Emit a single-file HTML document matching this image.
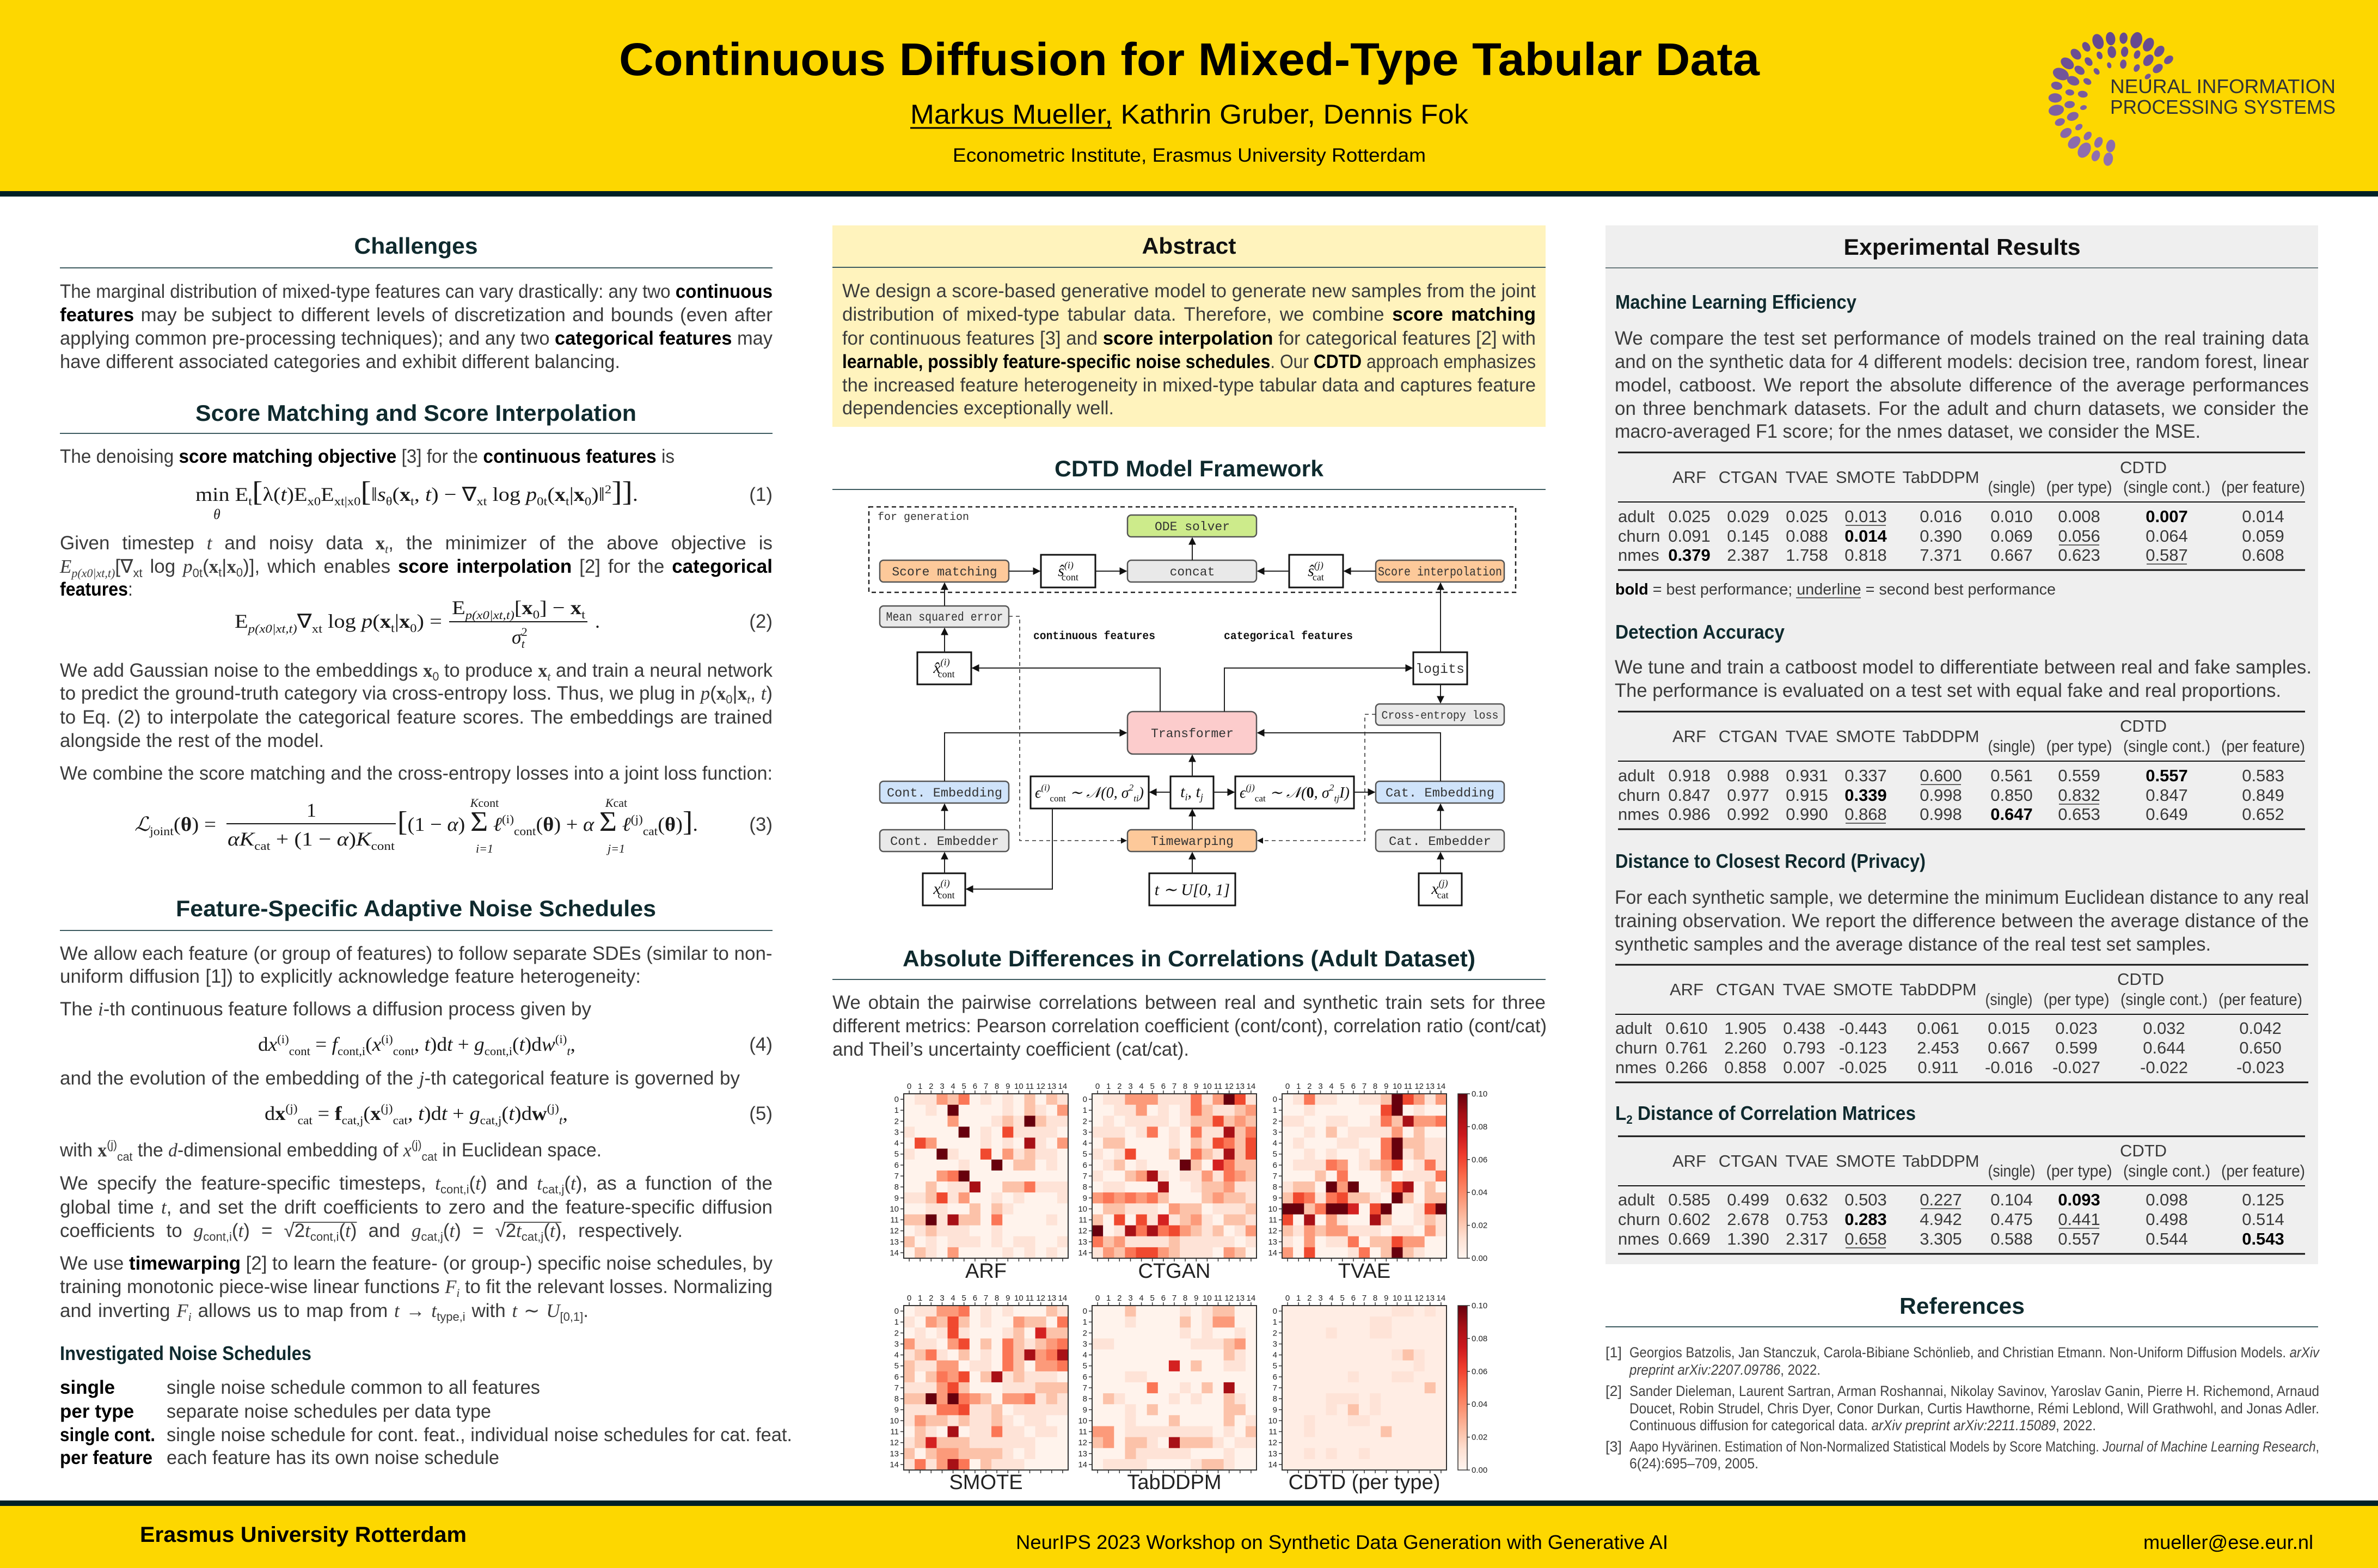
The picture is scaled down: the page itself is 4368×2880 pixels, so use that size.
<!DOCTYPE html>
<html><head><meta charset="utf-8"><style>
html,body{margin:0;padding:0;background:#fff;overflow:hidden}
svg{display:block}
.b{font-family:"Liberation Sans",sans-serif;font-size:35px;fill:#3b3b3b}
.lb{font-family:"Liberation Sans",sans-serif;font-size:38px;fill:#222}
.k{font-weight:bold;fill:#000}
.h{font-family:"Liberation Sans",sans-serif;font-weight:bold;font-size:42px;fill:#0f2a2e}
.s{font-family:"Liberation Sans",sans-serif;font-weight:bold;font-size:36px;fill:#0f2a2e}
.m{font-family:"Liberation Serif",serif;font-size:36px;fill:#1a1a1a}
.mi{font-family:"Liberation Serif",serif;font-style:italic}
.bx{font-family:"Liberation Serif",serif;font-weight:bold}
.sb{font-size:22px}
.big{font-size:52px}
.t{font-family:"Liberation Sans",sans-serif;font-size:31px;fill:#3a3a3a}
.tb{font-weight:bold;fill:#000}
.r{font-family:"Liberation Sans",sans-serif;font-size:27px;fill:#444}
.it{font-style:italic}
.mo{font-family:"Liberation Mono",monospace;font-size:23px;fill:#333}
.mb{font-family:"Liberation Mono",monospace;font-size:21px;font-weight:bold;fill:#111}
.dm{font-family:"Liberation Serif",serif;font-style:italic;font-size:30px;fill:#111}
.tk{font-family:"Liberation Sans",sans-serif;font-size:15px;fill:#222}
.rule{stroke:#3c5a5f;stroke-width:2}
.ln{stroke:#222;stroke-width:2;fill:none}
.ds{stroke:#333;stroke-width:1.6;fill:none;stroke-dasharray:7 6}
.bxo{stroke:#555;stroke-width:2.5}
.mbx{fill:#fff;stroke:#111;stroke-width:3}
</style></head><body>
<svg id="p" xmlns="http://www.w3.org/2000/svg" width="4368" height="2880" viewBox="0 0 4368 2880">
<defs>
<marker id="ar" viewBox="0 0 10 10" refX="9" refY="5" markerWidth="7" markerHeight="7" orient="auto-start-reverse"><path d="M0,0 L10,5 L0,10 z" fill="#111"/></marker>
<linearGradient id="cb" x1="0" y1="1" x2="0" y2="0">
<stop offset="0" stop-color="#fff5f0"/><stop offset=".125" stop-color="#fee0d2"/><stop offset=".25" stop-color="#fcbba1"/><stop offset=".375" stop-color="#fc9272"/><stop offset=".5" stop-color="#fb6a4a"/><stop offset=".625" stop-color="#ef3b2c"/><stop offset=".75" stop-color="#cb181d"/><stop offset=".875" stop-color="#a50f15"/><stop offset="1" stop-color="#67000d"/>
</linearGradient>
</defs>

<!-- HEADER -->
<rect x="0" y="0" width="4368" height="351" fill="#fdd700"/>
<rect x="0" y="351" width="4368" height="10" fill="#002126"/>
<text x="1137" y="138" textLength="2095" style="font-family:'Liberation Sans',sans-serif;font-weight:bold;font-size:84px;fill:#000">Continuous Diffusion for Mixed-Type Tabular Data</text>
<text x="1672" y="227" textLength="1025" style="font-family:'Liberation Sans',sans-serif;font-size:50px;fill:#000">Markus Mueller, Kathrin Gruber, Dennis Fok</text>
<line x1="1672" y1="235" x2="2042" y2="235" stroke="#000" stroke-width="3"/>
<text x="1750" y="297" textLength="869" style="font-family:'Liberation Sans',sans-serif;font-size:35px;fill:#000">Econometric Institute, Erasmus University Rotterdam</text>
<g id="logo"></g>
<text x="3876" y="171" textLength="414" style="font-family:'Liberation Sans',sans-serif;font-size:36px;fill:#2f3238">NEURAL INFORMATION</text>
<text x="3876" y="209" textLength="414" style="font-family:'Liberation Sans',sans-serif;font-size:36px;fill:#2f3238">PROCESSING SYSTEMS</text>

<!-- FOOTER -->
<rect x="0" y="2756" width="4368" height="10" fill="#002126"/>
<rect x="0" y="2766" width="4368" height="114" fill="#fdd700"/>
<text x="257" y="2832" textLength="600" style="font-family:'Liberation Sans',sans-serif;font-weight:bold;font-size:40px;fill:#000">Erasmus University Rotterdam</text>
<text x="1866" y="2845" textLength="1198" style="font-family:'Liberation Sans',sans-serif;font-size:36px;fill:#000">NeurIPS 2023 Workshop on Synthetic Data Generation with Generative AI</text>
<text x="3937" y="2845" textLength="312" style="font-family:'Liberation Sans',sans-serif;font-size:36px;fill:#000">mueller@ese.eur.nl</text>

<!-- LEFT COLUMN -->
<text class="h" x="764" y="466" text-anchor="middle" textLength="227">Challenges</text>
<line class="rule" x1="110" y1="492" x2="1419" y2="492"/>
<text class="b" x="110" y="547" textLength="1309">The marginal distribution of mixed-type features can vary drastically: any two <tspan class="k">continuous</tspan></text>
<text class="b" x="110" y="590" textLength="1309"><tspan class="k">features</tspan> may be subject to different levels of discretization and bounds (even after</text>
<text class="b" x="110" y="633" textLength="1309">applying common pre-processing techniques); and any two <tspan class="k">categorical features</tspan> may</text>
<text class="b" x="110" y="676" textLength="1029">have different associated categories and exhibit different balancing.</text>

<text class="h" x="764" y="773" text-anchor="middle" textLength="810">Score Matching and Score Interpolation</text>
<line class="rule" x1="110" y1="796" x2="1419" y2="796"/>
<text class="b" x="110" y="850" textLength="1129">The denoising <tspan class="k">score matching objective</tspan> [3] for the <tspan class="k">continuous features</tspan> is</text>

<text class="m" x="359" y="920" textLength="813">min E<tspan class="sb" dy="8">t</tspan><tspan dy="-8" class="big">[</tspan>λ(<tspan class="mi">t</tspan>)E<tspan class="sb" dy="8">x0</tspan><tspan dy="-8">E</tspan><tspan class="sb" dy="8">xt|x0</tspan><tspan dy="-8" class="big">[</tspan>‖<tspan class="mi">s</tspan><tspan class="sb" dy="8">θ</tspan><tspan dy="-8">(</tspan><tspan class="bx">x</tspan><tspan class="sb" dy="8">t</tspan><tspan dy="-8">, </tspan><tspan class="mi">t</tspan>) − ∇<tspan class="sb" dy="8">xt</tspan><tspan dy="-8"> log </tspan><tspan class="mi">p</tspan><tspan class="sb" dy="8">0t</tspan><tspan dy="-8">(</tspan><tspan class="bx">x</tspan><tspan class="sb" dy="8">t</tspan><tspan dy="-8">|</tspan><tspan class="bx">x</tspan><tspan class="sb" dy="8">0</tspan><tspan dy="-8">)‖</tspan><tspan class="sb" dy="-14">2</tspan><tspan dy="14" class="big">]]</tspan>.</text>
<text class="m mi" x="392" y="953" style="font-size:26px">θ</text>
<text class="b" x="1419" y="920" text-anchor="end">(1)</text>

<text class="b" x="110" y="1009" textLength="1309">Given timestep <tspan class="mi">t</tspan> and noisy data <tspan class="bx">x</tspan><tspan class="sb mi" dy="7">t</tspan><tspan dy="-7">, the minimizer of the above objective is</tspan></text>
<text class="b" x="110" y="1052" textLength="1309"><tspan class="mi">E</tspan><tspan class="sb mi" dy="8">p(x0|xt,t)</tspan><tspan dy="-8">[∇</tspan><tspan class="sb" dy="8">xt</tspan><tspan dy="-8"> log </tspan><tspan class="mi">p</tspan><tspan class="sb" dy="8">0t</tspan><tspan dy="-8">(</tspan><tspan class="bx">x</tspan><tspan class="sb" dy="7">t</tspan><tspan dy="-7">|</tspan><tspan class="bx">x</tspan><tspan class="sb" dy="7">0</tspan><tspan dy="-7">)], which enables </tspan><tspan class="k">score interpolation</tspan> [2] for the <tspan class="k">categorical</tspan></text>
<text class="b" x="110" y="1094" textLength="134"><tspan class="k">features</tspan>:</text>

<text class="m" x="431" y="1153" textLength="381">E<tspan class="sb mi" dy="9">p(x0|xt,t)</tspan><tspan dy="-9">∇</tspan><tspan class="sb" dy="9">xt</tspan><tspan dy="-9"> log </tspan><tspan class="mi">p</tspan>(<tspan class="bx">x</tspan><tspan class="sb" dy="8">t</tspan><tspan dy="-8">|</tspan><tspan class="bx">x</tspan><tspan class="sb" dy="8">0</tspan><tspan dy="-8">) =</tspan></text>
<text class="m" x="830" y="1128" textLength="245">E<tspan class="sb mi" dy="9">p(x0|xt,t)</tspan><tspan dy="-9">[</tspan><tspan class="bx">x</tspan><tspan class="sb" dy="8">0</tspan><tspan dy="-8">] − </tspan><tspan class="bx">x</tspan><tspan class="sb" dy="8">t</tspan></text>
<line x1="825" y1="1142" x2="1079" y2="1142" stroke="#111" stroke-width="2"/>
<text class="m" x="940" y="1182"><tspan class="mi">σ</tspan><tspan class="sb" dy="-14">2</tspan><tspan class="sb mi" dx="-11" dy="22">t</tspan></text>
<text class="m" x="1093" y="1153">.</text>
<text class="b" x="1419" y="1153" text-anchor="end">(2)</text>

<text class="b" x="110" y="1243" textLength="1309">We add Gaussian noise to the embeddings <tspan class="bx">x</tspan><tspan class="sb" dy="7">0</tspan><tspan dy="-7"> to produce </tspan><tspan class="bx">x</tspan><tspan class="sb mi" dy="7">t</tspan><tspan dy="-7"> and train a neural network</tspan></text>
<text class="b" x="110" y="1285" textLength="1309">to predict the ground-truth category via cross-entropy loss. Thus, we plug in <tspan class="mi">p</tspan>(<tspan class="bx">x</tspan><tspan class="sb" dy="7">0</tspan><tspan dy="-7">|</tspan><tspan class="bx">x</tspan><tspan class="sb mi" dy="7">t</tspan><tspan dy="-7">, </tspan><tspan class="mi">t</tspan>)</text>
<text class="b" x="110" y="1329" textLength="1309">to Eq. (2) to interpolate the categorical feature scores. The embeddings are trained</text>
<text class="b" x="110" y="1372" textLength="485">alongside the rest of the model.</text>
<text class="b" x="110" y="1432" textLength="1309">We combine the score matching and the cross-entropy losses into a joint loss function:</text>

<text class="m" x="247" y="1526" textLength="150"><tspan class="mi">ℒ</tspan><tspan class="sb" dy="8">joint</tspan><tspan dy="-8">(</tspan><tspan class="bx">θ</tspan>) =</text>
<text class="m" x="572" y="1500" text-anchor="middle">1</text>
<line x1="416" y1="1513" x2="727" y2="1513" stroke="#111" stroke-width="2"/>
<text class="m" x="418" y="1553" textLength="307"><tspan class="mi">αK</tspan><tspan class="sb" dy="8">cat</tspan><tspan dy="-8"> + (1 − </tspan><tspan class="mi">α</tspan>)<tspan class="mi">K</tspan><tspan class="sb" dy="8">cont</tspan></text>
<text class="m" x="730" y="1526" textLength="552"><tspan class="big">[</tspan>(1 − <tspan class="mi">α</tspan>) <tspan class="big">Σ</tspan> <tspan class="mi">ℓ</tspan><tspan class="sb" dy="-14">(i)</tspan><tspan class="sb" dy="22">cont</tspan><tspan dy="-8">(</tspan><tspan class="bx">θ</tspan>) + <tspan class="mi">α</tspan> <tspan class="big">Σ</tspan> <tspan class="mi">ℓ</tspan><tspan class="sb" dy="-14">(j)</tspan><tspan class="sb" dy="22">cat</tspan><tspan dy="-8">(</tspan><tspan class="bx">θ</tspan>)<tspan class="big">]</tspan>.</text>
<text class="m mi" x="890" y="1482" text-anchor="middle" style="font-size:22px">K<tspan style="font-style:normal">cont</tspan></text>
<text class="m mi" x="890" y="1566" text-anchor="middle" style="font-size:22px">i=1</text>
<text class="m mi" x="1132" y="1482" text-anchor="middle" style="font-size:22px">K<tspan style="font-style:normal">cat</tspan></text>
<text class="m mi" x="1132" y="1566" text-anchor="middle" style="font-size:22px">j=1</text>
<text class="b" x="1419" y="1526" text-anchor="end">(3)</text>

<text class="h" x="764" y="1683" text-anchor="middle" textLength="882">Feature-Specific Adaptive Noise Schedules</text>
<line class="rule" x1="110" y1="1709" x2="1419" y2="1709"/>
<text class="b" x="110" y="1763" textLength="1309">We allow each feature (or group of features) to follow separate SDEs (similar to non-</text>
<text class="b" x="110" y="1805" textLength="1067">uniform diffusion [1]) to explicitly acknowledge feature heterogeneity:</text>
<text class="b" x="110" y="1865" textLength="976">The <tspan class="mi">i</tspan>-th continuous feature follows a diffusion process given by</text>
<text class="m" x="474" y="1930" textLength="583">d<tspan class="mi">x</tspan><tspan class="sb" dy="-14">(i)</tspan><tspan class="sb" dy="22">cont</tspan><tspan dy="-8"> = </tspan><tspan class="mi">f</tspan><tspan class="sb" dy="8">cont,i</tspan><tspan dy="-8">(</tspan><tspan class="mi">x</tspan><tspan class="sb" dy="-14">(i)</tspan><tspan class="sb" dy="22">cont</tspan><tspan dy="-8">, </tspan><tspan class="mi">t</tspan>)d<tspan class="mi">t</tspan> + <tspan class="mi">g</tspan><tspan class="sb" dy="8">cont,i</tspan><tspan dy="-8">(</tspan><tspan class="mi">t</tspan>)d<tspan class="mi">w</tspan><tspan class="sb" dy="-14">(i)</tspan><tspan class="sb mi" dy="22">t</tspan><tspan dy="-8">,</tspan></text>
<text class="b" x="1419" y="1930" text-anchor="end">(4)</text>
<text class="b" x="110" y="1992" textLength="1249">and the evolution of the embedding of the <tspan class="mi">j</tspan>-th categorical feature is governed by</text>
<text class="m" x="486" y="2057" textLength="557">d<tspan class="bx">x</tspan><tspan class="sb" dy="-14">(j)</tspan><tspan class="sb" dy="22">cat</tspan><tspan dy="-8"> = </tspan><tspan class="bx">f</tspan><tspan class="sb" dy="8">cat,j</tspan><tspan dy="-8">(</tspan><tspan class="bx">x</tspan><tspan class="sb" dy="-14">(j)</tspan><tspan class="sb" dy="22">cat</tspan><tspan dy="-8">, </tspan><tspan class="mi">t</tspan>)d<tspan class="mi">t</tspan> + <tspan class="mi">g</tspan><tspan class="sb" dy="8">cat,j</tspan><tspan dy="-8">(</tspan><tspan class="mi">t</tspan>)d<tspan class="bx">w</tspan><tspan class="sb" dy="-14">(j)</tspan><tspan class="sb mi" dy="22">t</tspan><tspan dy="-8">,</tspan></text>
<text class="b" x="1419" y="2057" text-anchor="end">(5)</text>
<text class="b" x="110" y="2124" textLength="995">with <tspan class="bx">x</tspan><tspan class="sb" dy="-14">(j)</tspan><tspan class="sb" dy="22">cat</tspan><tspan dy="-8"> the </tspan><tspan class="mi">d</tspan>-dimensional embedding of <tspan class="mi">x</tspan><tspan class="sb" dy="-14">(j)</tspan><tspan class="sb" dy="22">cat</tspan><tspan dy="-8"> in Euclidean space.</tspan></text>
<text class="b" x="110" y="2185" textLength="1309">We specify the feature-specific timesteps, <tspan class="mi">t</tspan><tspan class="sb" dy="7">cont,i</tspan><tspan dy="-7">(</tspan><tspan class="mi">t</tspan>) and <tspan class="mi">t</tspan><tspan class="sb" dy="7">cat,j</tspan><tspan dy="-7">(</tspan><tspan class="mi">t</tspan>), as a function of the</text>
<text class="b" x="110" y="2229" textLength="1309">global time <tspan class="mi">t</tspan>, and set the drift coefficients to zero and the feature-specific diffusion</text>
<text id="sq" class="b" x="110" y="2272" textLength="1144">coefficients to <tspan class="mi">g</tspan><tspan class="sb" dy="7">cont,i</tspan><tspan dy="-7">(</tspan><tspan class="mi">t</tspan>) = √2<tspan class="mi">t</tspan><tspan class="sb" dy="7">cont,i</tspan><tspan dy="-7">(</tspan><tspan class="mi">t</tspan>) and <tspan class="mi">g</tspan><tspan class="sb" dy="7">cat,j</tspan><tspan dy="-7">(</tspan><tspan class="mi">t</tspan>) = √2<tspan class="mi">t</tspan><tspan class="sb" dy="7">cat,j</tspan><tspan dy="-7">(</tspan><tspan class="mi">t</tspan>), respectively.</text>
<text class="b" x="110" y="2332" textLength="1309">We use <tspan class="k">timewarping</tspan> [2] to learn the feature- (or group-) specific noise schedules, by</text>
<text class="b" x="110" y="2375" textLength="1309">training monotonic piece-wise linear functions <tspan class="mi">F</tspan><tspan class="sb mi" dy="7">i</tspan><tspan dy="-7"> to fit the relevant losses. Normalizing</tspan></text>
<text class="b" x="110" y="2419" textLength="971">and inverting <tspan class="mi">F</tspan><tspan class="sb mi" dy="7">i</tspan><tspan dy="-7"> allows us to map from </tspan><tspan class="mi">t</tspan> → <tspan class="mi">t</tspan><tspan class="sb" dy="7">type,i</tspan><tspan dy="-7"> with </tspan><tspan class="mi">t</tspan> ∼ <tspan class="mi">U</tspan><tspan class="sb" dy="7">[0,1]</tspan><tspan dy="-7">.</tspan></text>

<text class="s" x="110" y="2498" textLength="462">Investigated Noise Schedules</text>
<text class="b k" x="110" y="2560">single</text>
<text class="b" x="306" y="2560" textLength="686">single noise schedule common to all features</text>
<text class="b k" x="110" y="2604">per type</text>
<text class="b" x="306" y="2604" textLength="596">separate noise schedules per data type</text>
<text class="b k" x="110" y="2647" textLength="175">single cont.</text>
<text class="b" x="306" y="2647" textLength="1149">single noise schedule for cont. feat., individual noise schedules for cat. feat.</text>
<text class="b k" x="110" y="2689" textLength="170">per feature</text>
<text class="b" x="306" y="2689" textLength="611">each feature has its own noise schedule</text>

<!-- MIDDLE COLUMN -->
<rect x="1529" y="414" width="1310" height="370" fill="#fff3bd"/>
<text class="h" x="2184" y="466" text-anchor="middle" textLength="173" style="fill:#111">Abstract</text>
<line class="rule" x1="1529" y1="491" x2="2839" y2="491"/>
<text class="b" x="1547" y="546" textLength="1274">We design a score-based generative model to generate new samples from the joint</text>
<text class="b" x="1547" y="589" textLength="1274">distribution of mixed-type tabular data. Therefore, we combine <tspan class="k">score matching</tspan></text>
<text class="b" x="1547" y="633" textLength="1274">for continuous features [3] and <tspan class="k">score interpolation</tspan> for categorical features [2] with</text>
<text class="b" x="1547" y="676" textLength="1274"><tspan class="k">learnable, possibly feature-specific noise schedules</tspan>. Our <tspan class="k">CDTD</tspan> approach emphasizes</text>
<text class="b" x="1547" y="719" textLength="1274">the increased feature heterogeneity in mixed-type tabular data and captures feature</text>
<text class="b" x="1547" y="761" textLength="499">dependencies exceptionally well.</text>

<text class="h" x="2184" y="875" text-anchor="middle" textLength="494">CDTD Model Framework</text>
<line class="rule" x1="1529" y1="899" x2="2839" y2="899"/>

<!-- diagram -->
<rect x="1596" y="931" width="1188" height="157" fill="none" stroke="#222" stroke-width="2.5" stroke-dasharray="8 6"/>
<text class="mo" x="1612" y="955" style="font-size:20px">for generation</text>
<rect class="bxo" x="2071" y="946" width="237" height="40" rx="7" fill="#cdeb8b"/>
<text class="mo" x="2190" y="974" text-anchor="middle">ODE solver</text>
<rect class="bxo" x="1616" y="1029" width="237" height="40" rx="7" fill="#fdc99a"/>
<text class="mo" x="1735" y="1057" text-anchor="middle">Score matching</text>
<rect class="mbx" x="1912" y="1019" width="100" height="60"/>
<text class="dm" x="1962" y="1058" text-anchor="middle">ŝ<tspan font-size="18" dy="-14">(i)</tspan><tspan font-size="18" dx="-22" dy="22" font-style="normal">cont</tspan></text>
<rect class="bxo" x="2071" y="1029" width="237" height="40" rx="7" fill="#e9e9e9"/>
<text class="mo" x="2190" y="1057" text-anchor="middle">concat</text>
<rect class="mbx" x="2368" y="1019" width="99" height="60"/>
<text class="dm" x="2417" y="1058" text-anchor="middle">ŝ<tspan font-size="18" dy="-14">(j)</tspan><tspan font-size="18" dx="-20" dy="22" font-style="normal">cat</tspan></text>
<rect class="bxo" x="2527" y="1029" width="236" height="40" rx="7" fill="#fdc99a"/>
<text class="mo" x="2645" y="1057" text-anchor="middle" textLength="228">Score interpolation</text>
<rect class="bxo" x="1616" y="1113" width="237" height="39" rx="7" fill="#e9e9e9"/>
<text class="mo" x="1735" y="1140" text-anchor="middle" textLength="215">Mean squared error</text>
<text class="mb" x="1898" y="1174" textLength="224">continuous features</text>
<text class="mb" x="2248" y="1174" textLength="237">categorical features</text>
<rect class="mbx" x="1685" y="1198" width="99" height="59"/>
<text class="dm" x="1734" y="1236" text-anchor="middle">x̂<tspan font-size="18" dy="-14">(i)</tspan><tspan font-size="18" dx="-22" dy="22" font-style="normal">cont</tspan></text>
<rect class="mbx" x="2596" y="1198" width="99" height="59"/>
<text class="mo" x="2645" y="1236" text-anchor="middle" style="font-size:25px">logits</text>
<rect class="bxo" x="2527" y="1293" width="236" height="39" rx="7" fill="#e9e9e9"/>
<text class="mo" x="2645" y="1320" text-anchor="middle" textLength="215" style="font-size:21px">Cross-entropy loss</text>
<rect class="bxo" x="2071" y="1307" width="237" height="78" rx="10" fill="#fccccc"/>
<text class="mo" x="2190" y="1354" text-anchor="middle">Transformer</text>
<rect class="bxo" x="1616" y="1435" width="237" height="40" rx="7" fill="#cfe3fa"/>
<text class="mo" x="1735" y="1463" text-anchor="middle" textLength="212">Cont. Embedding</text>
<rect class="mbx" x="1893" y="1426" width="217" height="59"/>
<text class="dm" x="1901" y="1465" textLength="200" style="font-size:28px">ϵ<tspan font-size="17" dy="-13">(i)</tspan><tspan font-size="17" dy="20" font-style="normal">cont</tspan><tspan dy="-7"> ∼ 𝒩(0, σ</tspan><tspan font-size="17" dy="-13">2</tspan><tspan font-size="17" dy="20">ti</tspan><tspan dy="-7">)</tspan></text>
<rect class="mbx" x="2150" y="1426" width="79" height="59"/>
<text class="dm" x="2189" y="1464" text-anchor="middle">t<tspan font-size="18" dy="6">i</tspan><tspan dy="-6">, t</tspan><tspan font-size="18" dy="6">j</tspan></text>
<rect class="mbx" x="2269" y="1426" width="218" height="59"/>
<text class="dm" x="2277" y="1465" textLength="202" style="font-size:28px">ϵ<tspan font-size="17" dy="-13">(j)</tspan><tspan font-size="17" dy="20" font-style="normal">cat</tspan><tspan dy="-7"> ∼ 𝒩(</tspan><tspan font-weight="bold" font-style="normal">0</tspan>, σ<tspan font-size="17" dy="-13">2</tspan><tspan font-size="17" dy="20">tj</tspan><tspan dy="-7">I)</tspan></text>
<rect class="bxo" x="2527" y="1435" width="236" height="40" rx="7" fill="#cfe3fa"/>
<text class="mo" x="2645" y="1463" text-anchor="middle" textLength="200">Cat. Embedding</text>
<rect class="bxo" x="1616" y="1524" width="237" height="40" rx="7" fill="#e9e9e9"/>
<text class="mo" x="1735" y="1552" text-anchor="middle" textLength="200">Cont. Embedder</text>
<rect class="bxo" x="2071" y="1524" width="237" height="40" rx="7" fill="#fdc99a"/>
<text class="mo" x="2190" y="1552" text-anchor="middle">Timewarping</text>
<rect class="bxo" x="2527" y="1524" width="236" height="40" rx="7" fill="#e9e9e9"/>
<text class="mo" x="2645" y="1552" text-anchor="middle" textLength="188">Cat. Embedder</text>
<rect class="mbx" x="1695" y="1604" width="78" height="59"/>
<text class="dm" x="1734" y="1642" text-anchor="middle">x<tspan font-size="18" dy="-14">(i)</tspan><tspan font-size="18" dx="-22" dy="22" font-style="normal">cont</tspan></text>
<rect class="mbx" x="2111" y="1604" width="158" height="59"/>
<text class="dm" x="2190" y="1644" text-anchor="middle">t ∼ U[0, 1]</text>
<rect class="mbx" x="2606" y="1604" width="79" height="59"/>
<text class="dm" x="2645" y="1642" text-anchor="middle">x<tspan font-size="18" dy="-14">(j)</tspan><tspan font-size="18" dx="-20" dy="22" font-style="normal">cat</tspan></text>
<g marker-end="url(#ar)">
<path class="ln" d="M1853,1049 L1910,1049"/>
<path class="ln" d="M2012,1049 L2069,1049"/>
<path class="ln" d="M2190,1029 L2190,988"/>
<path class="ln" d="M2368,1049 L2310,1049"/>
<path class="ln" d="M2527,1049 L2469,1049"/>
<path class="ln" d="M1735,1113 L1735,1071"/>
<path class="ln" d="M1735,1198 L1735,1154"/>
<path class="ln" d="M2131,1307 L2131,1227 L1786,1227"/>
<path class="ln" d="M2249,1307 L2249,1227 L2594,1227"/>
<path class="ln" d="M2646,1198 L2646,1071"/>
<path class="ln" d="M2646,1257 L2646,1291"/>
<path class="ln" d="M1735,1435 L1735,1346 L2069,1346"/>
<path class="ln" d="M2646,1435 L2646,1346 L2310,1346"/>
<path class="ln" d="M2190,1426 L2190,1387"/>
<path class="ln" d="M2150,1455 L2112,1455"/>
<path class="ln" d="M2229,1455 L2267,1455"/>
<path class="ln" d="M2487,1455 L2525,1455"/>
<path class="ln" d="M1735,1524 L1735,1477"/>
<path class="ln" d="M1735,1604 L1735,1566"/>
<path class="ln" d="M2190,1524 L2190,1487"/>
<path class="ln" d="M2190,1604 L2190,1566"/>
<path class="ln" d="M2646,1524 L2646,1477"/>
<path class="ln" d="M2646,1604 L2646,1566"/>
<path class="ln" d="M1933,1485 L1933,1633 L1775,1633"/>
<path class="ds" d="M1853,1132 L1873,1132 L1873,1544 L2069,1544"/>
<path class="ds" d="M2527,1312 L2507,1312 L2507,1544 L2310,1544"/>
</g>

<text class="h" x="2184" y="1775" text-anchor="middle" textLength="1052">Absolute Differences in Correlations (Adult Dataset)</text>
<line class="rule" x1="1529" y1="1799" x2="2839" y2="1799"/>
<text class="b" x="1529" y="1853" textLength="1310">We obtain the pairwise correlations between real and synthetic train sets for three</text>
<text class="b" x="1529" y="1896" textLength="1312">different metrics: Pearson correlation coefficient (cont/cont), correlation ratio (cont/cat)</text>
<text class="b" x="1529" y="1939" textLength="655">and Theil’s uncertainty coefficient (cat/cat).</text>
<g id="hm"></g>
<text class="lb" x="1811" y="2347" text-anchor="middle">ARF</text>
<text class="lb" x="2157" y="2347" text-anchor="middle">CTGAN</text>
<text class="lb" x="2506" y="2347" text-anchor="middle">TVAE</text>
<text class="lb" x="1811" y="2735" text-anchor="middle">SMOTE</text>
<text class="lb" x="2157" y="2735" text-anchor="middle">TabDDPM</text>
<text class="lb" x="2506" y="2735" text-anchor="middle">CDTD (per type)</text>

<!-- RIGHT COLUMN -->
<rect x="2949" y="414" width="1309" height="1908" fill="#efefef"/>
<text class="h" x="3604" y="468" text-anchor="middle" textLength="435" style="fill:#111">Experimental Results</text>
<line x1="2949" y1="492" x2="4258" y2="492" stroke="#6a7a7c" stroke-width="2"/>
<text class="s" x="2967" y="567" textLength="443">Machine Learning Efficiency</text>
<text class="b" x="2966" y="633" textLength="1275">We compare the test set performance of models trained on the real training data</text>
<text class="b" x="2966" y="676" textLength="1275">and on the synthetic data for 4 different models: decision tree, random forest, linear</text>
<text class="b" x="2966" y="719" textLength="1275">model, catboost. We report the absolute difference of the average performances</text>
<text class="b" x="2966" y="762" textLength="1275">on three benchmark datasets. For the adult and churn datasets, we consider the</text>
<text class="b" x="2966" y="804" textLength="1076">macro-averaged F1 score; for the nmes dataset, we consider the MSE.</text>

<!-- Table 1 -->
<line x1="2972" y1="831" x2="4234" y2="831" stroke="#111" stroke-width="3"/>
<text class="t" x="3937" y="869" text-anchor="middle">CDTD</text>
<text class="t" y="887" text-anchor="middle"><tspan x="3103">ARF</tspan><tspan x="3211">CTGAN</tspan><tspan x="3319">TVAE</tspan><tspan x="3427">SMOTE</tspan><tspan x="3565">TabDDPM</tspan></text>
<text class="t" x="3695" y="905" text-anchor="middle" textLength="87">(single)</text><text class="t" x="3819" y="905" text-anchor="middle" textLength="121">(per type)</text><text class="t" x="3980" y="905" text-anchor="middle" textLength="160">(single cont.)</text><text class="t" x="4157" y="905" text-anchor="middle" textLength="154">(per feature)</text>
<line x1="2972" y1="922" x2="4234" y2="922" stroke="#111" stroke-width="2"/>
<text class="t" x="2972" y="959">adult</text><text class="t" x="2972" y="995">churn</text><text class="t" x="2972" y="1030">nmes</text>
<text class="t" y="959" text-anchor="middle"><tspan x="3103">0.025</tspan><tspan x="3211">0.029</tspan><tspan x="3319">0.025</tspan><tspan x="3427">0.013</tspan><tspan x="3565">0.016</tspan><tspan x="3695">0.010</tspan><tspan x="3819">0.008</tspan><tspan x="3980" class="tb">0.007</tspan><tspan x="4157">0.014</tspan></text>
<text class="t" y="995" text-anchor="middle"><tspan x="3103">0.091</tspan><tspan x="3211">0.145</tspan><tspan x="3319">0.088</tspan><tspan x="3427" class="tb">0.014</tspan><tspan x="3565">0.390</tspan><tspan x="3695">0.069</tspan><tspan x="3819">0.056</tspan><tspan x="3980">0.064</tspan><tspan x="4157">0.059</tspan></text>
<text class="t" y="1030" text-anchor="middle"><tspan x="3103" class="tb">0.379</tspan><tspan x="3211">2.387</tspan><tspan x="3319">1.758</tspan><tspan x="3427">0.818</tspan><tspan x="3565">7.371</tspan><tspan x="3695">0.667</tspan><tspan x="3819">0.623</tspan><tspan x="3980">0.587</tspan><tspan x="4157">0.608</tspan></text>
<g stroke="#333" stroke-width="1.6"><line x1="3390" y1="965" x2="3464" y2="965"/><line x1="3782" y1="1001" x2="3856" y2="1001"/><line x1="3943" y1="1036" x2="4017" y2="1036"/></g>
<line x1="2972" y1="1047" x2="4234" y2="1047" stroke="#111" stroke-width="3"/>
<text class="t" x="2967" y="1092" textLength="809" style="font-size:29px"><tspan class="tb">bold</tspan> = best performance; underline = second best performance</text>
<line x1="3299" y1="1098" x2="3418" y2="1098" stroke="#333" stroke-width="1.6"/>

<text class="s" x="2967" y="1173" textLength="311">Detection Accuracy</text>
<text class="b" x="2966" y="1237" textLength="1280">We tune and train a catboost model to differentiate between real and fake samples.</text>
<text class="b" x="2966" y="1280" textLength="1224">The performance is evaluated on a test set with equal fake and real proportions.</text>
<!-- Table 2 -->
<line x1="2972" y1="1307" x2="4234" y2="1307" stroke="#111" stroke-width="3"/>
<text class="t" x="3937" y="1344" text-anchor="middle">CDTD</text>
<text class="t" y="1363" text-anchor="middle"><tspan x="3103">ARF</tspan><tspan x="3211">CTGAN</tspan><tspan x="3319">TVAE</tspan><tspan x="3427">SMOTE</tspan><tspan x="3565">TabDDPM</tspan></text>
<text class="t" x="3695" y="1381" text-anchor="middle" textLength="87">(single)</text><text class="t" x="3819" y="1381" text-anchor="middle" textLength="121">(per type)</text><text class="t" x="3980" y="1381" text-anchor="middle" textLength="160">(single cont.)</text><text class="t" x="4157" y="1381" text-anchor="middle" textLength="154">(per feature)</text>
<line x1="2972" y1="1398" x2="4234" y2="1398" stroke="#111" stroke-width="2"/>
<text class="t" x="2972" y="1435">adult</text><text class="t" x="2972" y="1471">churn</text><text class="t" x="2972" y="1506">nmes</text>
<text class="t" y="1435" text-anchor="middle"><tspan x="3103">0.918</tspan><tspan x="3211">0.988</tspan><tspan x="3319">0.931</tspan><tspan x="3427">0.337</tspan><tspan x="3565">0.600</tspan><tspan x="3695">0.561</tspan><tspan x="3819">0.559</tspan><tspan x="3980" class="tb">0.557</tspan><tspan x="4157">0.583</tspan></text>
<text class="t" y="1471" text-anchor="middle"><tspan x="3103">0.847</tspan><tspan x="3211">0.977</tspan><tspan x="3319">0.915</tspan><tspan x="3427" class="tb">0.339</tspan><tspan x="3565">0.998</tspan><tspan x="3695">0.850</tspan><tspan x="3819">0.832</tspan><tspan x="3980">0.847</tspan><tspan x="4157">0.849</tspan></text>
<text class="t" y="1506" text-anchor="middle"><tspan x="3103">0.986</tspan><tspan x="3211">0.992</tspan><tspan x="3319">0.990</tspan><tspan x="3427">0.868</tspan><tspan x="3565">0.998</tspan><tspan x="3695" class="tb">0.647</tspan><tspan x="3819">0.653</tspan><tspan x="3980">0.649</tspan><tspan x="4157">0.652</tspan></text>
<g stroke="#333" stroke-width="1.6"><line x1="3528" y1="1441" x2="3602" y2="1441"/><line x1="3782" y1="1477" x2="3856" y2="1477"/><line x1="3390" y1="1512" x2="3464" y2="1512"/></g>
<line x1="2972" y1="1523" x2="4234" y2="1523" stroke="#111" stroke-width="3"/>

<text class="s" x="2967" y="1594" textLength="570">Distance to Closest Record (Privacy)</text>
<text class="b" x="2966" y="1660" textLength="1275">For each synthetic sample, we determine the minimum Euclidean distance to any real</text>
<text class="b" x="2966" y="1703" textLength="1275">training observation. We report the difference between the average distance of the</text>
<text class="b" x="2966" y="1746" textLength="1095">synthetic samples and the average distance of the real test set samples.</text>
<!-- Table 3 -->
<line x1="2967" y1="1772" x2="4240" y2="1772" stroke="#111" stroke-width="3"/>
<text class="t" x="3932" y="1809" text-anchor="middle">CDTD</text>
<text class="t" y="1828" text-anchor="middle"><tspan x="3098">ARF</tspan><tspan x="3206">CTGAN</tspan><tspan x="3314">TVAE</tspan><tspan x="3422">SMOTE</tspan><tspan x="3560">TabDDPM</tspan></text>
<text class="t" x="3690" y="1846" text-anchor="middle" textLength="87">(single)</text><text class="t" x="3814" y="1846" text-anchor="middle" textLength="121">(per type)</text><text class="t" x="3975" y="1846" text-anchor="middle" textLength="160">(single cont.)</text><text class="t" x="4152" y="1846" text-anchor="middle" textLength="154">(per feature)</text>
<line x1="2967" y1="1863" x2="4240" y2="1863" stroke="#111" stroke-width="2"/>
<text class="t" x="2967" y="1899">adult</text><text class="t" x="2967" y="1935">churn</text><text class="t" x="2967" y="1971">nmes</text>
<text class="t" y="1899" text-anchor="middle"><tspan x="3098">0.610</tspan><tspan x="3206">1.905</tspan><tspan x="3314">0.438</tspan><tspan x="3422">-0.443</tspan><tspan x="3560">0.061</tspan><tspan x="3690">0.015</tspan><tspan x="3814">0.023</tspan><tspan x="3975">0.032</tspan><tspan x="4152">0.042</tspan></text>
<text class="t" y="1935" text-anchor="middle"><tspan x="3098">0.761</tspan><tspan x="3206">2.260</tspan><tspan x="3314">0.793</tspan><tspan x="3422">-0.123</tspan><tspan x="3560">2.453</tspan><tspan x="3690">0.667</tspan><tspan x="3814">0.599</tspan><tspan x="3975">0.644</tspan><tspan x="4152">0.650</tspan></text>
<text class="t" y="1971" text-anchor="middle"><tspan x="3098">0.266</tspan><tspan x="3206">0.858</tspan><tspan x="3314">0.007</tspan><tspan x="3422">-0.025</tspan><tspan x="3560">0.911</tspan><tspan x="3690">-0.016</tspan><tspan x="3814">-0.027</tspan><tspan x="3975">-0.022</tspan><tspan x="4152">-0.023</tspan></text>
<line x1="2967" y1="1988" x2="4240" y2="1988" stroke="#111" stroke-width="3"/>

<text class="s" x="2967" y="2057" textLength="552">L<tspan style="font-size:22px" dy="7">2</tspan><tspan dy="-7"> Distance of Correlation Matrices</tspan></text>
<!-- Table 4 -->
<line x1="2972" y1="2087" x2="4234" y2="2087" stroke="#111" stroke-width="3"/>
<text class="t" x="3937" y="2124" text-anchor="middle">CDTD</text>
<text class="t" y="2143" text-anchor="middle"><tspan x="3103">ARF</tspan><tspan x="3211">CTGAN</tspan><tspan x="3319">TVAE</tspan><tspan x="3427">SMOTE</tspan><tspan x="3565">TabDDPM</tspan></text>
<text class="t" x="3695" y="2161" text-anchor="middle" textLength="87">(single)</text><text class="t" x="3819" y="2161" text-anchor="middle" textLength="121">(per type)</text><text class="t" x="3980" y="2161" text-anchor="middle" textLength="160">(single cont.)</text><text class="t" x="4157" y="2161" text-anchor="middle" textLength="154">(per feature)</text>
<line x1="2972" y1="2178" x2="4234" y2="2178" stroke="#111" stroke-width="2"/>
<text class="t" x="2972" y="2214">adult</text><text class="t" x="2972" y="2250">churn</text><text class="t" x="2972" y="2286">nmes</text>
<text class="t" y="2214" text-anchor="middle"><tspan x="3103">0.585</tspan><tspan x="3211">0.499</tspan><tspan x="3319">0.632</tspan><tspan x="3427">0.503</tspan><tspan x="3565">0.227</tspan><tspan x="3695">0.104</tspan><tspan x="3819" class="tb">0.093</tspan><tspan x="3980">0.098</tspan><tspan x="4157">0.125</tspan></text>
<text class="t" y="2250" text-anchor="middle"><tspan x="3103">0.602</tspan><tspan x="3211">2.678</tspan><tspan x="3319">0.753</tspan><tspan x="3427" class="tb">0.283</tspan><tspan x="3565">4.942</tspan><tspan x="3695">0.475</tspan><tspan x="3819">0.441</tspan><tspan x="3980">0.498</tspan><tspan x="4157">0.514</tspan></text>
<text class="t" y="2286" text-anchor="middle"><tspan x="3103">0.669</tspan><tspan x="3211">1.390</tspan><tspan x="3319">2.317</tspan><tspan x="3427">0.658</tspan><tspan x="3565">3.305</tspan><tspan x="3695">0.588</tspan><tspan x="3819">0.557</tspan><tspan x="3980">0.544</tspan><tspan x="4157" class="tb">0.543</tspan></text>
<g stroke="#333" stroke-width="1.6"><line x1="3528" y1="2220" x2="3602" y2="2220"/><line x1="3782" y1="2256" x2="3856" y2="2256"/><line x1="3390" y1="2292" x2="3464" y2="2292"/></g>
<line x1="2972" y1="2303" x2="4234" y2="2303" stroke="#111" stroke-width="3"/>

<text class="h" x="3604" y="2413" text-anchor="middle" textLength="230">References</text>
<line class="rule" x1="2949" y1="2437" x2="4258" y2="2437"/>
<text class="r" x="2949" y="2493">[1]</text>
<text class="r" x="2993" y="2493" textLength="1267">Georgios Batzolis, Jan Stanczuk, Carola-Bibiane Schönlieb, and Christian Etmann. Non-Uniform Diffusion Models. <tspan class="it">arXiv</tspan></text>
<text class="r" x="2993" y="2525" textLength="351"><tspan class="it">preprint arXiv:2207.09786</tspan>, 2022.</text>
<text class="r" x="2949" y="2564">[2]</text>
<text class="r" x="2993" y="2564" textLength="1267">Sander Dieleman, Laurent Sartran, Arman Roshannai, Nikolay Savinov, Yaroslav Ganin, Pierre H. Richemond, Arnaud</text>
<text class="r" x="2993" y="2596" textLength="1267">Doucet, Robin Strudel, Chris Dyer, Conor Durkan, Curtis Hawthorne, Rémi Leblond, Will Grathwohl, and Jonas Adler.</text>
<text class="r" x="2993" y="2627" textLength="857">Continuous diffusion for categorical data. <tspan class="it">arXiv preprint arXiv:2211.15089</tspan>, 2022.</text>
<text class="r" x="2949" y="2666">[3]</text>
<text class="r" x="2993" y="2666" textLength="1267">Aapo Hyvärinen. Estimation of Non-Normalized Statistical Models by Score Matching. <tspan class="it">Journal of Machine Learning Research</tspan>,</text>
<text class="r" x="2993" y="2697" textLength="237">6(24):695–709, 2005.</text>
</svg>
<script>
(function(){
var NS='http://www.w3.org/2000/svg';
var svg=document.getElementById('p');
document.querySelectorAll('text[textLength]').forEach(function(t){
  var L=+t.getAttribute('textLength');
  var isBody=t.classList.contains('b')||t.classList.contains('r');
  if(!isBody){t.setAttribute('lengthAdjust','spacingAndGlyphs');return;}
  t.removeAttribute('textLength');
  var n=0;try{n=t.getComputedTextLength();}catch(e){n=L+1;}
  if(n>L){
    t.setAttribute('textLength',L);
    t.setAttribute('lengthAdjust','spacingAndGlyphs');
  } else {
    var sp=(t.textContent.replace(/\s+/g,' ').trim().match(/ /g)||[]).length;
    if(sp>0 && L-n>1){
      var ws=(L-n)/sp;
      t.style.wordSpacing=ws+'px';
      try{var n2=t.getComputedTextLength(); if(Math.abs(L-n2)>1){ws+= (L-n2)/sp; t.style.wordSpacing=ws+'px';}}catch(e){}
    } else if(L-n>1){
      t.setAttribute('textLength',L);
      t.setAttribute('lengthAdjust','spacingAndGlyphs');
    }
  }
});
function el(n,a,p){var e=document.createElementNS(NS,n);for(var k in a)e.setAttribute(k,a[k]);p.appendChild(e);return e;}
try{
 var sq=document.getElementById('sq');var s=sq.textContent;var idx=-1;
 while((idx=s.indexOf('√',idx+1))>=0){
  var j=s.indexOf(')',idx);
  var a=sq.getExtentOfChar(idx),b=sq.getExtentOfChar(j);
  el('line',{x1:(a.x+a.width*0.85).toFixed(1),y1:(a.y+4).toFixed(1),x2:(b.x+b.width).toFixed(1),y2:(a.y+4).toFixed(1),stroke:'#222','stroke-width':1.6},svg);
 }
}catch(e){}
var C={'0':'#fff3ec','1':'#fee3d7','2':'#fcc2a9','3':'#fc9a7a','4':'#fb7656','5':'#f0492f','6':'#d42121','7':'#a81016','8':'#67000d','h':'#ffede4'};
var D=[
[1660,2009,"011324010102021001080000102103000030001218211100008010511110053000010107103100810050312110000001008022010000348000000000002011700224111112513001010001001100202100000228172204000010012111001000000201011101011001021030000101010"],
[2006,2009,"011333111413851001130101421123010111101225232111014010411724022000010215425101500020421725012010008206422100237101131432011000700122311343434200023221022111032201112205051612310221801747453212013423111121111101132455321110320"],
[2355,2009,"014110011285313001000000580100110011001427334001020111130200010001100482211001010010481211011143012350141000204000201114122083800157020254145221082022882488605800158507031007200121213233111011031103011402253300305000140282100"],
[1660,2398,"011334010100021103252010032204010151000120622311035020421234124102010427347211330110420334202435027121110111352000111222228384320334121111445112011111132212112101100021070114110110126222111111000202332222101000141374021110000"],
[2006,2398,"000200001012200000100002013300000000001010010110000000111230000000000000210000000060200110000110000000000000004001020700021000010100210000102000000220000100020000201330111111110102230221072221011000211111000100011110000122100"],
[2355,2398,"hhhhhhhhhh11h1hhhhhhhhh11hhhhhhhhh1hhh11hhhhhhhhhhhhhhhhhhhhhhhhhhhhhh121hhhhhhhhhhhhhh1hhhhhhhh1hhh11hhhhhhhhhhhhhhhh2hhhhh111h1hhhhhhhhhh1h2h1hhhhhhhh1hhh11hhhhhhhhh1hhhhhh2hhhhhhhhhhhhhhhhhhhhhh1h1hh1hhhhhhhhhhhhhhhhhhhhhhhh"]
];
var g=document.getElementById('hm');var cs=302/15;
D.forEach(function(d){
 var x0=d[0],y0=d[1],s=d[2];
 for(var r=0;r<15;r++)for(var c=0;c<15;c++){
  el('rect',{x:(x0+c*cs).toFixed(1),y:(y0+r*cs).toFixed(1),width:(cs+0.6).toFixed(1),height:(cs+0.6).toFixed(1),fill:C[s[r*15+c]]||'#fff3ec'},g);
 }
 el('rect',{x:x0,y:y0,width:302,height:302,fill:'none',stroke:'#333','stroke-width':2},g);
 for(var i=0;i<15;i++){
  var cx=(x0+(i+0.5)*cs).toFixed(1),cy=(y0+(i+0.5)*cs).toFixed(1);
  el('line',{x1:cx,y1:y0-6,x2:cx,y2:y0,stroke:'#333','stroke-width':1.5},g);
  el('line',{x1:cx,y1:y0+302,x2:cx,y2:y0+308,stroke:'#333','stroke-width':1.5},g);
  el('line',{x1:x0-6,y1:cy,x2:x0,y2:cy,stroke:'#333','stroke-width':1.5},g);
  var t=el('text',{x:cx,y:y0-9,'text-anchor':'middle','class':'tk'},g);t.textContent=i;
  var t2=el('text',{x:x0-9,y:(+cy+5).toFixed(1),'text-anchor':'end','class':'tk'},g);t2.textContent=i;
 }
});
[2009,2398].forEach(function(y0){
 el('rect',{x:2678,y:y0,width:17,height:302,fill:'url(#cb)',stroke:'#333','stroke-width':1.5},g);
 for(var k=0;k<6;k++){
  var y=y0+302-k*302/5;
  el('line',{x1:2695,y1:y,x2:2700,y2:y,stroke:'#333','stroke-width':1.5},g);
  var t=el('text',{x:2703,y:(y+5).toFixed(1),'class':'tk'},g);t.textContent='0.'+(k*2<10?'0'+k*2:'10');
 }
});
var lg=document.getElementById('logo');
var cx0=3893,cy0=182;
var rows=[[118,11,20],[92,8.5,16],[68,6.5,11]];
function mix(a,b,f){var pa=[parseInt(a.substr(1,2),16),parseInt(a.substr(3,2),16),parseInt(a.substr(5,2),16)],pb=[parseInt(b.substr(1,2),16),parseInt(b.substr(3,2),16),parseInt(b.substr(5,2),16)];return 'rgb('+pa.map(function(v,i){return Math.round(v+(pb[i]-v)*f);}).join(',')+')';}
rows.forEach(function(rw,ri){
 var n=rw[2];
 for(var i=0;i<n;i++){
  var deg=320-i*(220/(n-1));
  if(ri==2&&deg<150)continue;
  var a=deg*Math.PI/180;
  var x=cx0+rw[0]*Math.cos(a),y=cy0+rw[0]*0.95*Math.sin(a);
  var sz=rw[1]*(0.75+0.45*((i*37+ri*11)%7)/6);
  var f=Math.min(1,Math.max(0,(y-60)/230));
  el('ellipse',{cx:x.toFixed(1),cy:y.toFixed(1),rx:(sz*0.8).toFixed(1),ry:(sz*1.15).toFixed(1),fill:mix('#63478d','#9170b0',f),transform:'rotate('+(deg+90).toFixed(0)+' '+x.toFixed(1)+' '+y.toFixed(1)+')'},lg);
 }
});
})();
</script>
</body></html>
